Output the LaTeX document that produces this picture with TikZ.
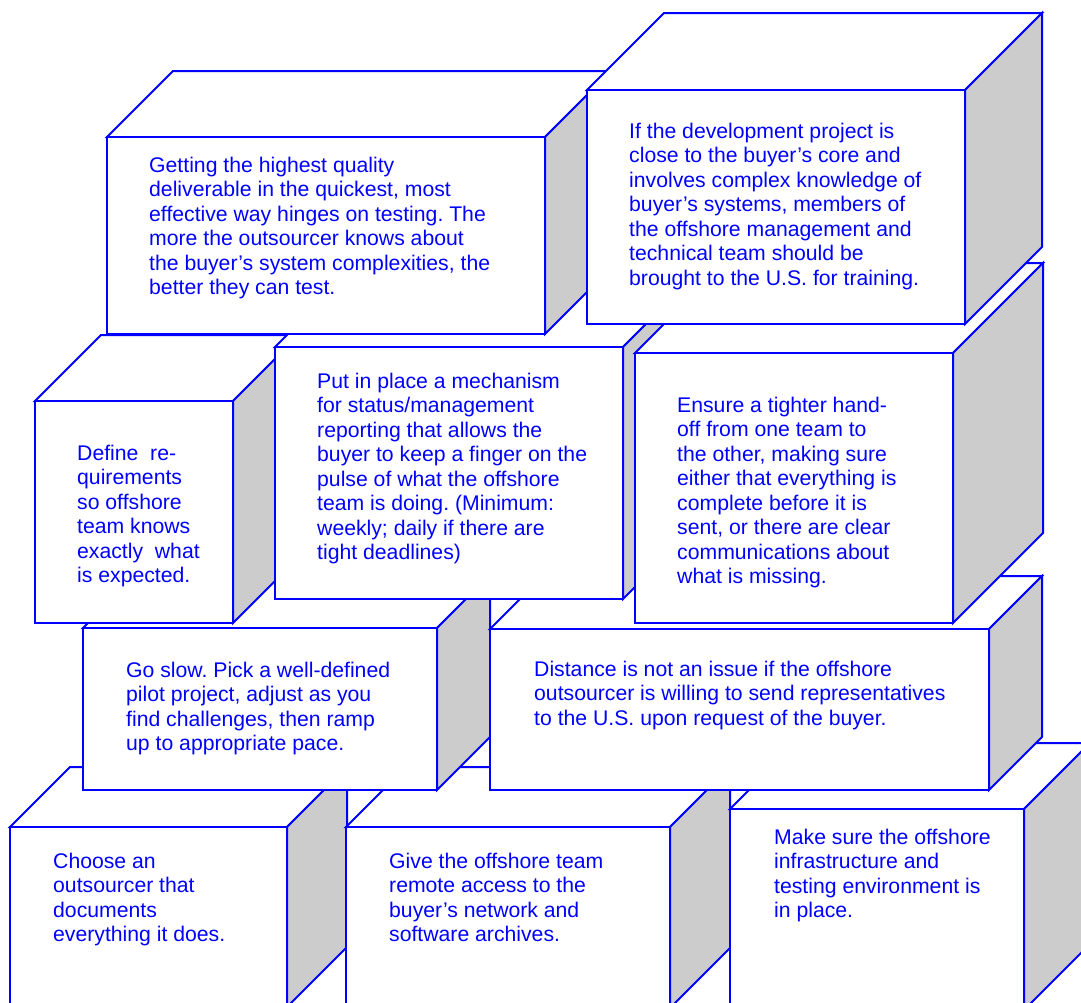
\documentclass[tikz,border=0pt]{standalone}
\usepackage{fontspec}
\setmainfont{Liberation Sans}
\usepackage{tikz}
\usepackage{xcolor}
\frenchspacing

\definecolor{edgeblue}{RGB}{0,0,255}
\definecolor{sidegray}{RGB}{204,204,204}
\tikzset{
  facet/.style={draw=edgeblue, line width=2pt, line join=miter, fill=white},
  darkfacet/.style={facet, fill=sidegray},
  advice/.style={anchor=north west, inner sep=0pt, align=left, text=edgeblue,
    font=\fontsize{21.2}{24.5}\selectfont}
}
% left, top, right, bottom, depth
\newcommand{\slab}[5]{%
  \filldraw[facet] (#1,#2) -- (#1+#5,#2-#5) -- (#3+#5,#2-#5) -- (#3,#2) -- cycle;
  \filldraw[darkfacet] (#3,#2) -- (#3+#5,#2-#5) -- (#3+#5,#4-#5) -- (#3,#4) -- cycle;
  \filldraw[facet] (#1,#2) rectangle (#3,#4);
}
\newcommand{\tstrut}{\rule{0pt}{17pt}}

\begin{document}
\begin{tikzpicture}[x=1pt,y=-1pt]
\useasboundingbox (0,0) rectangle (1081,1002);
\clip (0,0) rectangle (1081,1002);
\slab{10}{827}{287}{1007}{60}
\node[advice] (choose) at (53,851) {\tstrut Choose an\\outsourcer that\\documents\\everything it does.};
\slab{346}{827}{670}{1008}{60}
\node[advice] (access) at (389,851) {\tstrut Give the offshore team\\remote access to the\\buyer’s network and\\software archives.};
\slab{730}{809}{1024}{1010}{66}
\node[advice] (infra) at (774,827) {\tstrut Make sure the offshore\\infrastructure and\\testing environment is\\in place.};
\slab{83}{628}{437}{790}{53}
\node[advice] (slow) at (126,660) {\tstrut Go slow. Pick a well-defined\\pilot project, adjust as you\\find challenges, then ramp\\up to appropriate pace.};
\slab{490}{629}{989}{790}{53}
\node[advice] (distance) at (534,659) {\tstrut Distance is not an issue if the offshore\\outsourcer is willing to send representatives\\to the U.S. upon request of the buyer.};
\slab{35}{401}{233}{623}{66}
\node[advice] (define) at (77,443) {\tstrut Define~ re-\\quirements\\so offshore\\team knows\\exactly~ what\\is expected.};
\slab{275}{347}{623}{599}{66}
\node[advice] (status) at (317,371) {\tstrut Put in place a mechanism\\for status/management\\reporting that allows the\\buyer to keep a finger on the\\pulse of what the offshore\\team is doing. (Minimum:\\weekly; daily if there are\\tight deadlines)};
\slab{635}{353}{953}{623}{90}
\node[advice] (handoff) at (677,395) {\tstrut Ensure a tighter hand-\\off from one team to\\the other, making sure\\either that everything is\\complete before it is\\sent, or there are clear\\communications about\\what is missing.};
\slab{107}{137}{545}{334}{66}
\node[advice] (testing) at (149,155) {\tstrut Getting the highest quality\\deliverable in the quickest, most\\effective way hinges on testing. The\\more the outsourcer knows about\\the buyer’s system complexities, the\\better they can test.};
\slab{587}{90}{965}{324}{77}
\node[advice] (training) at (629,121) {\tstrut If the development project is\\close to the buyer’s core and\\involves complex knowledge of\\buyer’s systems, members of\\the offshore management and\\technical team should be\\brought to the U.S. for training.};
\end{tikzpicture}
\end{document}
